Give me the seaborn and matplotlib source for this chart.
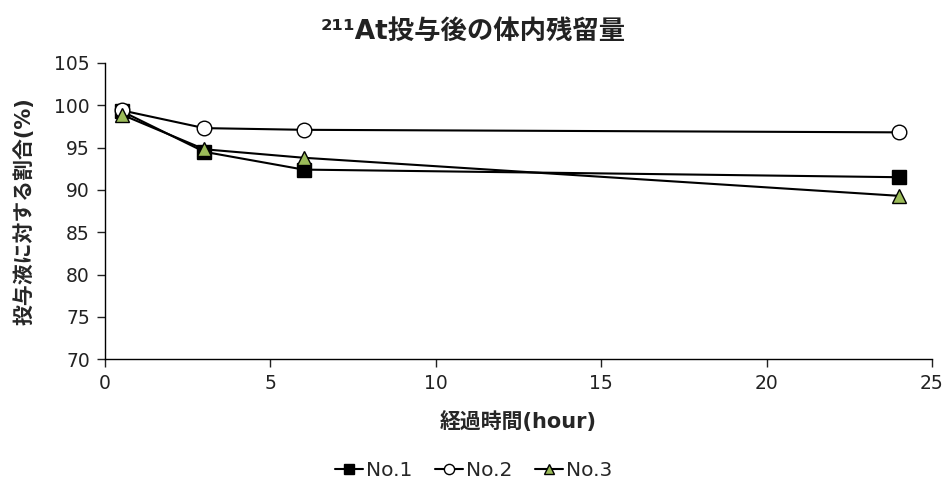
import matplotlib
matplotlib.use("Agg")
import matplotlib.pyplot as plt
import seaborn as sns
import pandas as pd

hours = [0.5, 3, 6, 24]
no1 = [99.3, 94.5, 92.4, 91.5]
no2 = [99.4, 97.3, 97.1, 96.8]
no3 = [98.9, 94.8, 93.8, 89.3]
series_names = ["No.1", "No.2", "No.3"]

df = pd.DataFrame({
    "hour": hours * 3,
    "value": no1 + no2 + no3,
    "series": [s for s in series_names for _ in hours],
})

sns.set_style("ticks")
plt.rcParams['font.family'] = ['DejaVu Sans', 'Noto Sans CJK JP']

fig = plt.figure(figsize=(9.47, 4.88), dpi=100)
ax = fig.add_axes([0.111, 0.264, 0.873, 0.607])

markers = {"No.1": "s", "No.2": "o", "No.3": "^"}
facec = {"No.1": "black", "No.2": "white", "No.3": "#9BBB59"}
sizes = {"No.1": 9.5, "No.2": 10.5, "No.3": 10.5}

for name in series_names:
    sub = df[df["series"] == name]
    sns.lineplot(data=sub, x="hour", y="value", ax=ax, color="black",
                 linewidth=1.5, marker=markers[name], markersize=sizes[name],
                 markerfacecolor=facec[name], markeredgecolor="black",
                 markeredgewidth=1.0, label=name, legend=False)

ax.set_xlim(0, 25)
ax.set_ylim(70, 105)
ax.set_xticks([0, 5, 10, 15, 20, 25])
ax.set_yticks(range(70, 106, 5))
ax.tick_params(axis="both", labelsize=13.5, direction="out", length=6, width=1,
               colors="#222222", pad=5)
for sp in ["top", "right"]:
    ax.spines[sp].set_visible(False)
for sp in ["left", "bottom"]:
    ax.spines[sp].set_color("black")
    ax.spines[sp].set_linewidth(1)

ax.set_xlabel("経過時間(hour)", fontsize=15, fontweight="bold", labelpad=13)
ax.set_ylabel("投与液に対する割合(%)", fontsize=15, fontweight="bold", labelpad=14)

# title: superscript mass number + main text
fig.text(0.5, 0.935, "²¹¹At投与後の体内残留量", ha="center", va="center",
         fontsize=19, fontweight="bold", color="#222222")

handles, labels = ax.get_legend_handles_labels()
fig.legend(handles, labels, loc="center", bbox_to_anchor=(0.5, 0.035), ncol=3,
           frameon=False, fontsize=14.5, handlelength=1.4, handletextpad=0.15,
           columnspacing=1.1, markerscale=0.7)

fig.savefig("out.png", dpi=100)
